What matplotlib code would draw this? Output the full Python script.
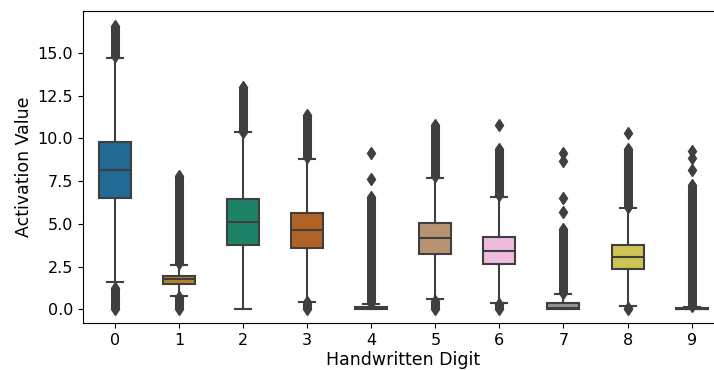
import numpy as np
import matplotlib
matplotlib.use("Agg")
import matplotlib.pyplot as plt
import seaborn as sns

# box statistics, one value per digit
digits = ["0", "1", "2", "3", "4", "5", "6", "7", "8", "9"]
q1 = [6.51, 1.48, 3.76, 3.57, 0.04, 3.24, 2.65, 0.00, 2.34, 0.02]
median = [8.15, 1.75, 5.13, 4.62, 0.08, 4.17, 3.43, 0.06, 3.06, 0.04]
q3 = [9.77, 1.95, 6.44, 5.62, 0.15, 5.07, 4.21, 0.39, 3.76, 0.08]
whis_lo = [1.62, 0.78, 0.00, 0.45, 0.00, 0.60, 0.39, 0.00, 0.19, 0.00]
whis_hi = [14.69, 2.59, 10.37, 8.81, 0.30, 7.70, 6.59, 0.90, 5.91, 0.15]

# outliers: dense runs (low, high) above and below the whiskers, plus lone points
upper_run = [(14.8, 16.6), (2.7, 7.8), (10.4, 13.0), (8.9, 11.35), (0.35, 6.6),
             (7.8, 10.8), (6.7, 9.35), (0.95, 4.7), (6.0, 9.35), (0.2, 7.25)]
lower_run = [(0.0, 1.25), (0.0, 0.72), None, (0.0, 0.4), None,
             (0.0, 0.5), (0.0, 0.3), None, (0.0, 0.1), None]
lone_points = [[], [], [], [], [7.6, 9.13], [], [10.78],
               [5.67, 6.53, 8.68, 9.13], [10.33], [8.15, 8.83, 9.28]]

# seaborn colorblind palette, desaturated a bit like the old boxplot default
colors = [sns.desaturate(c, 0.65) for c in sns.color_palette("colorblind", 10)]
line_color = "#3f3f3f"

fig = plt.figure(figsize=(7.14, 3.70), dpi=100)
ax = fig.add_axes([0.1162, 0.127, 0.8973, 0.8432])

stats = []
for i in range(len(digits)):
    stats.append({
        "q1": q1[i], "med": median[i], "q3": q3[i],
        "whislo": whis_lo[i], "whishi": whis_hi[i], "fliers": [],
    })

positions = np.arange(len(digits))
lw = 1.5
bp = ax.bxp(stats, positions=positions, widths=0.5, patch_artist=True,
            showfliers=False,
            boxprops=dict(linewidth=lw, edgecolor=line_color),
            medianprops=dict(linewidth=lw, color=line_color),
            whiskerprops=dict(linewidth=lw, color=line_color),
            capprops=dict(linewidth=lw, color=line_color))
for patch, c in zip(bp["boxes"], colors):
    patch.set_facecolor(c)
for cap in bp["caps"]:
    x = cap.get_xdata()
    mid = (x[0] + x[1]) / 2
    cap.set_xdata([mid - 0.125, mid + 0.125])

# outliers
for i in positions:
    runs = [upper_run[i]]
    if lower_run[i] is not None:
        runs.append(lower_run[i])
    for lo, hi in runs:
        ax.vlines(i, lo, hi, color=line_color, linewidth=6.5, zorder=1)
        ax.plot([i, i], [lo, hi], linestyle="none", marker="d", markersize=6,
                color=line_color, zorder=1)
    if lone_points[i]:
        ax.plot([i] * len(lone_points[i]), lone_points[i], linestyle="none",
                marker="d", markersize=6, color=line_color, zorder=1)

ax.set_xlim(-0.5, 9.5)
ax.set_ylim(-0.80, 17.45)
ax.set_xticks(positions)
ax.set_xticklabels(digits)
ax.set_yticks([0, 2.5, 5, 7.5, 10, 12.5, 15])
ax.set_yticklabels(["0.0", "2.5", "5.0", "7.5", "10.0", "12.5", "15.0"])
ax.tick_params(labelsize=11.5)
ax.set_xlabel("Handwritten Digit", fontsize=12.5, labelpad=2)
ax.set_ylabel("Activation Value", fontsize=12.5, labelpad=3)

fig.savefig("out.png", dpi=100)
